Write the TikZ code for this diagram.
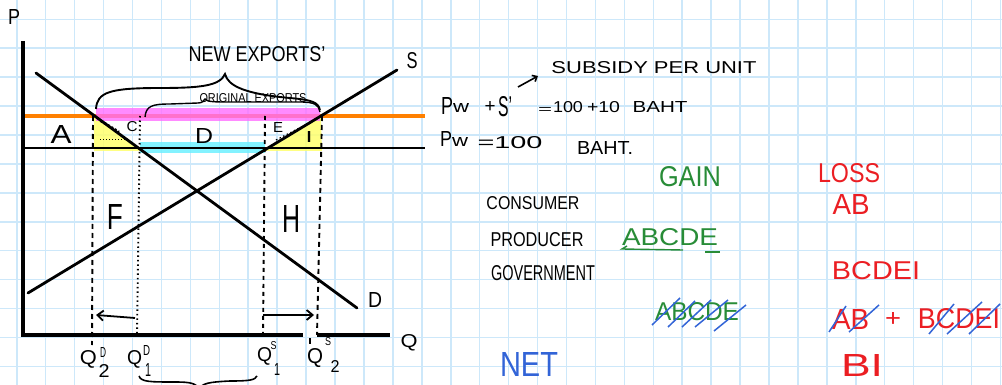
\documentclass[tikz,border=0pt]{standalone}
\usepackage{fontspec}
\setmainfont{Liberation Sans}
\usepackage{graphicx}
\usetikzlibrary{arrows.meta}
\definecolor{gridc}{RGB}{205,232,250}
\definecolor{orng}{RGB}{255,128,0}
\definecolor{mag}{RGB}{255,110,255}
\definecolor{cyn}{RGB}{110,240,255}
\definecolor{yel}{RGB}{255,255,110}
\definecolor{grn}{RGB}{40,140,55}
\definecolor{rd}{RGB}{235,30,35}
\definecolor{blu}{RGB}{50,100,215}
\newcommand{\tb}[3]{\resizebox{#1pt}{#2pt}{#3}}
\begin{document}
\begin{tikzpicture}[x=1pt,y=-1pt,
  gridline/.style={gridc,line width=1.5pt},
  ink/.style={black,line width=2.8pt,line cap=round},
  axisline/.style={black,line width=3.2pt},
  guide/.style={black,line width=1.9pt,dash pattern=on 5pt off 4pt},
  guidedot/.style={black,line width=1.9pt,dash pattern=on 1.5pt off 3pt},
  lbl/.style={inner sep=0pt,outer sep=0pt},
  slash/.style={blu,line width=1.5pt},
  barb/.style={-{Straight Barb[length=6pt,width=10pt]}}]
\useasboundingbox (0,0) rectangle (1002,385);
\fill[white] (0,0) rectangle (1002,385);
\foreach \i in {0,...,34} \draw[gridline] ({16.8+28.93*\i},0) -- ({16.8+28.93*\i},385);
\foreach \j in {0,...,12} \draw[gridline] (0,{19.3+28.93*\j}) -- (1002,{19.3+28.93*\j});

% coordinates
\coordinate (ax0) at (23,335);
\coordinate (axT) at (23,41);
\coordinate (axR1) at (303,335);
\coordinate (axL2) at (317,335);
\coordinate (axR) at (390,335);
\coordinate (d0) at (36,73);
\coordinate (d1) at (357,308);
\coordinate (s0) at (28,293);
\coordinate (s1) at (397,70);
\coordinate (o0) at (23,115.7);
\coordinate (o1) at (425,115.7);
\coordinate (w0) at (23,148);
\coordinate (w1) at (425,148);

% shaded areas
\fill[yel,opacity=.85] (94,116) -- (94,151) -- (139,151) -- (139,148) -- cycle;
\fill[yel,opacity=.85] (264,151) -- (266,148) -- (321,116) -- (322,151) -- cycle;
\fill[cyn,opacity=.85] (140,142) rectangle (265,153);
\draw[orng,line width=4.2pt] (o0) -- (o1);
\fill[mag,opacity=.8] (96,108) rectangle (320,121);

% lines
\draw[black,line width=2.4pt] (w0) -- (w1);
\draw[axisline] (axT) -- (ax0) -- (axR1);
\draw[axisline] (axL2) -- (axR);
\draw[ink] (d0) -- (d1);
\draw[ink] (s0) -- (s1);

% hatching marks
\draw[black,line width=2.6pt,dash pattern=on 2pt off 2pt] (101,121) -- (119,132);
\draw[black,line width=1pt,dash pattern=on 1pt off 2pt] (100,140) -- (126,140);
\draw[black,line width=1.2pt,dash pattern=on 1.5pt off 2.5pt] (276,140) -- (317,119);

% guide lines
\coordinate (g1t) at (93,116);   \coordinate (g1b) at (92,345);
\coordinate (g2t) at (140,116);  \coordinate (g2b) at (137,335);
\coordinate (g3t) at (265,116);  \coordinate (g3b) at (263,335);
\coordinate (g4t) at (322,116);  \coordinate (g4b) at (317,335);
\draw[guide] (g1t) -- (g1b);
\draw[guidedot] (g2t) -- (g2b);
\draw[guide,dash pattern=on 4pt off 4pt] (g3t) -- (g3b);
\draw[guide] (g4t) -- (g4b);
\draw[black,line width=1.6pt] (310,338) -- (310,344);

% arrows
\coordinate (la0) at (135,318); \coordinate (la1) at (96,315);
\coordinate (ra0) at (263,315); \coordinate (ra1) at (314,315);
\draw[black,line width=1.8pt,barb] (la0) -- (la1);
\draw[black,line width=1.8pt,barb] (ra0) -- (ra1);

% braces
\draw[black,line width=1.9pt] (96,109) .. controls (97,92) and (110,88) .. (160,88)
  .. controls (200,88) and (220,86) .. (225,74)
  .. controls (228,86) and (245,94) .. (290,98)
  .. controls (312,100) and (318,102) .. (320,110);
\draw[black,line width=1.4pt] (145,117) .. controls (146,106) and (152,104) .. (170,104)
  -- (198,103) .. controls (202,103) and (204,101) .. (205,99)
  .. controls (207,102) and (215,102) .. (230,102) -- (300,102)
  .. controls (315,102) and (319,105) .. (320,112);
\draw[black,line width=1.6pt] (139,376) .. controls (141,382) and (150,382) .. (175,382)
  .. controls (190,382) and (197,383) .. (199,390);
\draw[black,line width=1.6pt] (199,390) .. controls (201,383) and (210,382) .. (230,381)
  .. controls (250,381) and (255,380) .. (257,376);

% graph labels
\node[lbl] (tP) at (14,17.5) {\tb{12}{15}{P}};
\node[lbl] (tS) at (412,61) {\tb{11}{16}{S}};
\node[lbl] (tDd) at (375,300) {\tb{14}{15}{D}};
\node[lbl] (tQ) at (409,343) {\tb{17}{13}{Q}};
\node[lbl] (tA) at (61,134) {\tb{21}{18}{A}};
\node[lbl] (tD) at (204,136) {\tb{18}{15}{D}};
\node[lbl] (tC) at (132,127) {\tb{11}{10}{C}};
\node[lbl] (tE) at (278,128) {\tb{10}{10}{E}};
\node[lbl] (tI) at (309,137) {\tb{7}{11}{I}};
\node[lbl] (tF) at (115,217) {\tb{16}{25}{F}};
\node[lbl] (tH) at (291,219) {\tb{18}{27}{H}};
\node[lbl] (tNew) at (257,54) {\tb{137}{15}{NEW EXPORTS'}};
\node[lbl] (tOrig) at (253,98) {\tb{107}{9}{ORIGINAL EXPORTS}};

% Q labels
\node[lbl] (q1) at (88.5,359) {\tb{17}{14}{Q}};
\node[lbl] (q1u) at (103,352) {\tb{6}{10}{D}};
\node[lbl] (q1d) at (104,371) {\tb{11}{13}{2}};
\node[lbl] (q2) at (134.5,359) {\tb{15}{14}{Q}};
\node[lbl] (q2u) at (146.5,350) {\tb{7}{10}{D}};
\node[lbl] (q2d) at (148,370) {\tb{6}{13}{1}};
\node[lbl] (q3) at (264.5,356) {\tb{15}{14}{Q}};
\node[lbl] (q3u) at (273.5,346) {\tb{6}{8}{S}};
\node[lbl] (q3d) at (277,369) {\tb{6}{12}{1}};
\node[lbl] (q4) at (315,358) {\tb{16}{15}{Q}};
\node[lbl] (q4u) at (328,342) {\tb{6}{8}{S}};
\node[lbl] (q4d) at (335,366) {\tb{9}{12}{2}};

% price labels
\node[lbl] (sub) at (654,68) {\tb{205}{12}{SUBSIDY PER UNIT}};
\coordinate (sa0) at (518,87); \coordinate (sa1) at (538,76);
\draw[black,line width=1.6pt,-{Straight Barb[length=4pt,width=7pt]}] (sa0) -- (sa1);
\node[lbl] (p1) at (447,106) {\tb{12}{17}{P}};
\node[lbl] (p1w) at (461,108) {\tb{16}{9}{w}};
\node[lbl] (p1p) at (490,107) {\tb{11}{11}{+}};
\node[lbl] (p1s) at (505,107) {\tb{14}{20}{S'}};
\node[lbl] (p1e) at (545,111) {\tb{14}{6}{=}};
\node[lbl] (p1n) at (568,107.5) {\tb{30}{11}{100}};
\node[lbl] (p1m) at (603.5,107) {\tb{33}{11}{+10}};
\node[lbl] (p1b) at (660,107) {\tb{55}{11}{BAHT}};
\node[lbl] (p2) at (446,139.5) {\tb{12}{15}{P}};
\node[lbl] (p2w) at (460,142) {\tb{16}{9}{w}};
\node[lbl] (p2n) at (510,143) {\tb{65}{12}{=100}};
\node[lbl] (p2b) at (605,148) {\tb{56}{13}{BAHT.}};

% table
\node[lbl,text=grn] (gain) at (690,177) {\tb{62}{20}{GAIN}};
\node[lbl,text=rd] (loss) at (849,173) {\tb{62}{19}{LOSS}};
\node[lbl] (cons) at (533,203) {\tb{93}{13}{CONSUMER}};
\node[lbl,text=rd] (consl) at (851,204) {\tb{37}{20}{AB}};
\node[lbl] (prod) at (537,240) {\tb{93}{14}{PRODUCER}};
\node[lbl,text=grn] (prodg) at (670,237) {\tb{96}{17}{ABCDE}};
\draw[grn,line width=1.4pt] (627,246) -- (622,249) -- (683,250);
\draw[grn,line width=1.4pt] (705,252) -- (720,252);
\node[lbl] (gov) at (543,273) {\tb{104}{15}{GOVERNMENT}};
\node[lbl,text=rd] (govl) at (876,271) {\tb{88}{18}{BCDEI}};
\node[lbl,text=grn] (sumg) at (697,312) {\tb{84}{18}{ABCDE}};
\draw[slash] (652,325) -- (680,298);
\draw[slash] (668,327) -- (695,301);
\draw[slash] (682,327) -- (711,300);
\draw[slash] (695,327) -- (728,300);
\draw[slash] (714,331) -- (746,305);
\node[lbl,text=rd] (suml1) at (850.5,319) {\tb{37}{20}{AB}};
\node[lbl,text=rd] (sumplus) at (893,319) {\tb{16}{14}{+}};
\node[lbl,text=rd] (suml2) at (959,319) {\tb{82}{20}{BCDEI}};
\draw[slash] (829,332) -- (846,306);
\draw[slash] (849,332) -- (879,305);
\draw[slash] (929,334) -- (954,304);
\draw[slash] (947,334) -- (982,302);
\draw[slash] (969,334) -- (1000,304);
\node[lbl,text=blu] (net) at (529,364) {\tb{58}{24}{NET}};
\node[lbl,text=rd] (netl) at (862,365) {\tb{42}{22}{BI}};
\end{tikzpicture}
\end{document}
